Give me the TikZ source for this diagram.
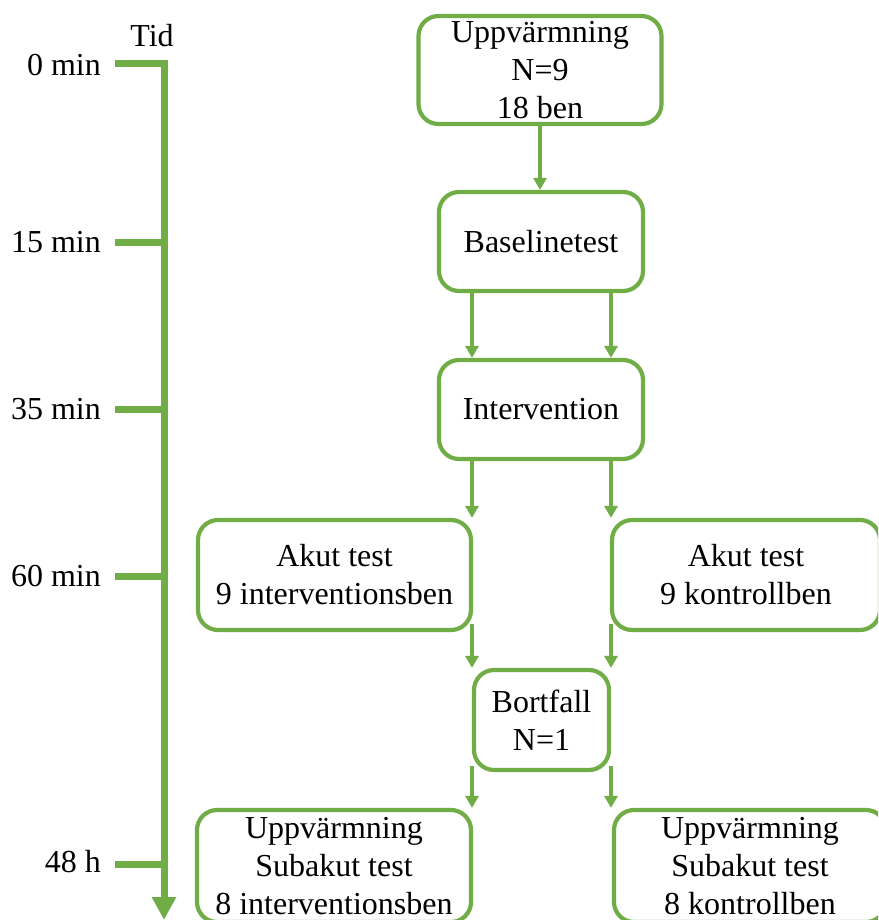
\documentclass[tikz,border=0pt]{standalone}
\usepackage{fontspec}
\setmainfont{Liberation Serif}
\usetikzlibrary{arrows.meta}
\definecolor{grn}{HTML}{70AD47}
\begin{document}
\begin{tikzpicture}[x=1pt,y=-1pt,
  every node/.style={font=\fontsize{32}{38}\selectfont, text=black},
  box/.style={draw=grn, line width=4.2pt, rounded corners=20pt, align=center, inner sep=0pt},
  arr/.style={draw=grn, line width=3.6pt, -{Triangle[width=13pt,length=12pt]}},
  tl/.style={draw=grn, line width=7pt},
  lbl/.style={anchor=east, inner sep=0pt}]
\useasboundingbox (0,0) rectangle (878,920);
\clip (0,0) rectangle (878,920);
% timeline
\draw[tl, -{Triangle[width=23pt,length=23pt]}] (115,64) -- (164,64) -- (164,920);
\foreach \yy in {242,409,576,864} \draw[tl] (115,\yy) -- (164,\yy);
\node (tid) at (152,36) {Tid};
\node[lbl] (t0) at (101,65) {0 min};
\node[lbl] (t15) at (101,242) {15 min};
\node[lbl] (t35) at (101,409) {35 min};
\node[lbl] (t60) at (101,576) {60 min};
\node[lbl] (t48) at (101,862) {48 h};
% boxes
\node[box, minimum width=243pt, minimum height=108pt] (up) at (540,70) {Uppvärmning\\N=9\\18 ben};
\node[box, minimum width=204pt, minimum height=99pt] (base) at (541,241.5) {Baselinetest};
\node[box, minimum width=204pt, minimum height=99pt] (interv) at (541,409.5) {Intervention};
\node[box, minimum width=273pt, minimum height=110pt] (akutL) at (334.5,575) {Akut test\\9 interventionsben};
\node[box, minimum width=268pt, minimum height=110pt] (akutR) at (746,575) {Akut test\\9 kontrollben};
\node[box, minimum width=135pt, minimum height=100pt] (bort) at (541.5,720) {Bortfall\\N=1};
\node[box, minimum width=274pt, minimum height=112pt] (subL) at (334,866) {Uppvärmning\\Subakut test\\8 interventionsben};
\node[box, minimum width=272pt, minimum height=112pt] (subR) at (750,866) {Uppvärmning\\Subakut test\\8 kontrollben};
% connector columns
\coordinate (cl) at (472,0);
\coordinate (cr) at (611,0);
\draw[arr] (up.south) -- (base.north -| up.south);
\draw[arr] (base.south -| cl) -- (interv.north -| cl);
\draw[arr] (base.south -| cr) -- (interv.north -| cr);
\draw[arr] (interv.south -| cl) -- (akutL.north -| cl);
\draw[arr] (interv.south -| cr) -- (akutR.north -| cr);
\draw[arr] ([yshift=8pt]akutL.south -| cl) -- (bort.north -| cl);
\draw[arr] ([yshift=8pt]akutR.south -| cr) -- (bort.north -| cr);
\draw[arr] ([yshift=6pt]bort.south -| cl) -- (subL.north -| cl);
\draw[arr] ([yshift=6pt]bort.south -| cr) -- (subR.north -| cr);
\end{tikzpicture}
\end{document}
